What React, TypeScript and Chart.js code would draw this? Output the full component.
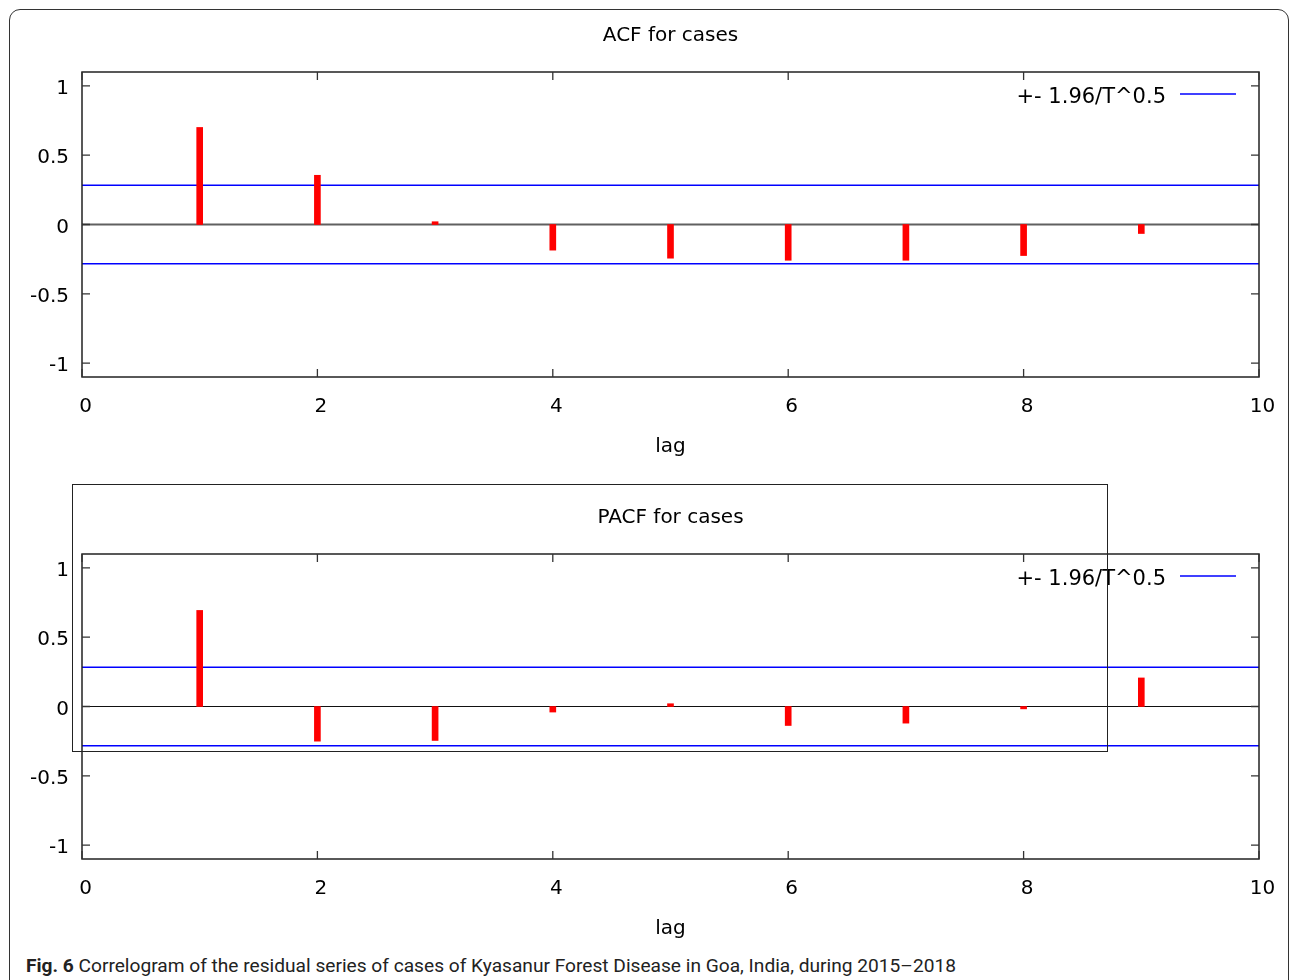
import React, { useEffect, useRef } from "react";
import { Chart, registerables } from "chart.js";
Chart.register(...registerables);

const lags = [1, 2, 3, 4, 5, 6, 7, 8, 9];
const acfValues = [0.7, 0.355, 0.02, -0.185, -0.243, -0.258, -0.258, -0.224, -0.065];
const pacfValues = [0.693, -0.25, -0.245, -0.04, 0.02, -0.137, -0.12, -0.017, 0.206];
const confBand = 0.283;
const xTicks = [0, 2, 4, 6, 8, 10];
const yTicks = [-1, -0.5, 0, 0.5, 1];
const legendLabel = "+- 1.96/T^0.5";
const xTitle = "lag";
const acfTitle = "ACF for cases";
const pacfTitle = "PACF for cases";

const FONT = "'DejaVu Sans', Verdana, sans-serif";
const W = 1295;
const H = 470;

const gnuplotPlugin = {
  id: "gnuplotFrame",
  beforeDatasetsDraw(chart: any, _args: any, opts: any) {
    const { ctx, chartArea: a, scales } = chart;
    const y0 = scales.y.getPixelForValue(0);
    ctx.save();
    ctx.strokeStyle = opts.zeroColor;
    ctx.lineWidth = opts.zeroWidth;
    ctx.beginPath();
    ctx.moveTo(a.left, y0);
    ctx.lineTo(a.right, y0);
    ctx.stroke();
    ctx.restore();
  },
  afterDraw(chart: any) {
    const { ctx, chartArea: a, scales } = chart;
    ctx.save();
    ctx.strokeStyle = "#222";
    ctx.lineWidth = 1.5;
    ctx.strokeRect(a.left, a.top, a.right - a.left, a.bottom - a.top);
    const tl = 8;
    ctx.lineWidth = 1.3;
    ctx.strokeStyle = "#333";
    ctx.beginPath();
    for (const v of yTicks) {
      const py = scales.y.getPixelForValue(v);
      ctx.moveTo(a.left, py);
      ctx.lineTo(a.left + tl, py);
      ctx.moveTo(a.right, py);
      ctx.lineTo(a.right - tl, py);
    }
    for (const v of xTicks) {
      const px = scales.x.getPixelForValue(v);
      ctx.moveTo(px, a.bottom);
      ctx.lineTo(px, a.bottom - tl);
      ctx.moveTo(px, a.top);
      ctx.lineTo(px, a.top + tl);
    }
    ctx.stroke();
    // legend (gnuplot style: text then sample)
    ctx.font = `21px ${FONT}`;
    ctx.fillStyle = "#000";
    ctx.textAlign = "right";
    ctx.textBaseline = "alphabetic";
    ctx.fillText(legendLabel, a.right - 93, a.top + 31);
    ctx.strokeStyle = "#0000ff";
    ctx.lineWidth = 1.3;
    ctx.beginPath();
    ctx.moveTo(a.right - 79, a.top + 22);
    ctx.lineTo(a.right - 23, a.top + 22);
    ctx.stroke();
    ctx.restore();
  },
};

function CorrChart({ title, values, zeroColor, zeroWidth, top }: any) {
  const ref = useRef<HTMLCanvasElement>(null);
  useEffect(() => {
    const canvas = ref.current!;
    const chart = new Chart(canvas, {
      type: "bar",
      data: {
        datasets: [
          {
            type: "bar",
            label: "values",
            data: lags.map((l, i) => ({ x: l, y: values[i] })),
            backgroundColor: "#ff0000",
            borderWidth: 0,
            barThickness: 6,
            order: 1,
          } as any,
          {
            type: "line",
            label: "upper",
            data: [
              { x: xTicks[0], y: confBand },
              { x: xTicks[xTicks.length - 1], y: confBand },
            ],
            borderColor: "#0000ff",
            borderWidth: 1.3,
            pointRadius: 0,
            fill: false,
            order: 2,
          },
          {
            type: "line",
            label: "lower",
            data: [
              { x: xTicks[0], y: -confBand },
              { x: xTicks[xTicks.length - 1], y: -confBand },
            ],
            borderColor: "#0000ff",
            borderWidth: 1.3,
            pointRadius: 0,
            fill: false,
            order: 2,
          },
        ],
      },
      options: {
        animation: false,
        responsive: false,
        devicePixelRatio: 1,
        layout: { padding: { left: 0, right: 36, top: 0, bottom: 0 } },
        plugins: {
          legend: { display: false },
          tooltip: { enabled: false },
          title: {
            display: true,
            fullSize: false,
            text: title,
            color: "#000",
            font: { family: FONT, size: 20, weight: "normal", lineHeight: 1.2 },
            padding: { top: 24, bottom: 24 },
          },
          gnuplotFrame: { zeroColor, zeroWidth },
        } as any,
        scales: {
          x: {
            type: "linear",
            min: 0,
            max: 10,
            offset: false,
            grid: { display: false, drawTicks: false },
            border: { display: false },
            afterBuildTicks: (s: any) => {
              s.ticks = xTicks.map((v) => ({ value: v }));
            },
            afterFit: (s: any) => {
              s.height = 93;
            },
            ticks: {
              color: "#000",
              font: { family: FONT, size: 20 },
              padding: 18,
              labelOffset: 3.5,
              maxRotation: 0,
              autoSkip: false,
            },
            title: {
              display: true,
              text: xTitle,
              color: "#000",
              font: { family: FONT, size: 20 },
              padding: { top: 0, bottom: 11 },
            },
          },
          y: {
            type: "linear",
            min: -1.1,
            max: 1.1,
            grid: { display: false, drawTicks: false },
            border: { display: false },
            afterBuildTicks: (s: any) => {
              s.ticks = yTicks.map((v) => ({ value: v }));
            },
            afterFit: (s: any) => {
              s.width = 82;
            },
            ticks: {
              color: "#000",
              font: { family: FONT, size: 20 },
              padding: 13,
              labelOffset: 3,
              callback: (v: any) => String(v),
            },
          },
        },
      } as any,
      plugins: [gnuplotPlugin],
    });
    return () => chart.destroy();
  }, []);
  return (
    <canvas
      ref={ref}
      width={W}
      height={H}
      style={{ position: "absolute", left: 0, top, width: W, height: H, display: "block" }}
    />
  );
}

export default function App() {
  return (
    <div
      style={{
        position: "absolute",
        left: 0,
        top: 0,
        width: 1295,
        height: 980,
        overflow: "hidden",
        background: "#fff",
      }}
    >
      <div
        style={{
          position: "absolute",
          left: 9,
          top: 9,
          width: 1280,
          height: 1010,
          border: "1.5px solid #333",
          borderRadius: 11,
          boxSizing: "border-box",
        }}
      />
      <CorrChart title={acfTitle} values={acfValues} zeroColor="#606060" zeroWidth={2} top={0} />
      <CorrChart title={pacfTitle} values={pacfValues} zeroColor="#111" zeroWidth={1.2} top={482} />
      <div
        style={{
          position: "absolute",
          left: 72,
          top: 484,
          width: 1036,
          height: 268,
          border: "1.3px solid #222",
          boxSizing: "border-box",
          pointerEvents: "none",
        }}
      />
      <div
        style={{
          position: "absolute",
          left: 26,
          top: 954,
          whiteSpace: "nowrap",
          fontFamily: "'Liberation Sans Narrow', 'Arial Narrow', 'Roboto', sans-serif",
          fontSize: 19.15,
          color: "#222",
        }}
      >
        <b>Fig. 6</b> Correlogram of the residual series of cases of Kyasanur Forest Disease in Goa, India, during 2015–2018
      </div>
    </div>
  );
}
